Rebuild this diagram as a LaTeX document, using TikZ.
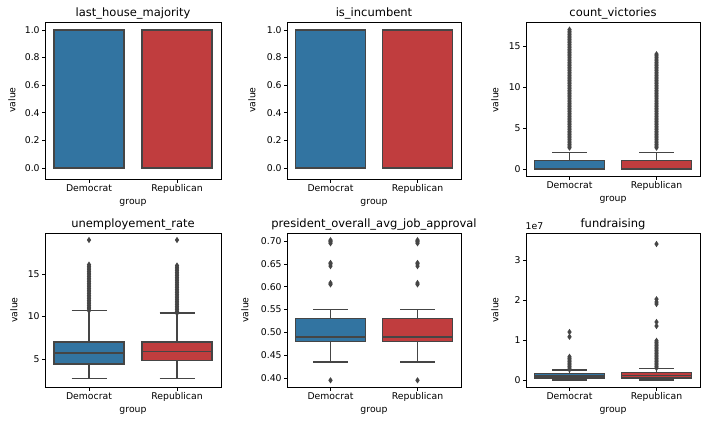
\documentclass[tikz,border=0pt]{standalone}
\usepackage{fontspec}
\setmainfont{DejaVu Sans}
\usetikzlibrary{shapes.geometric}
\definecolor{cblue}{HTML}{3274A1}
\definecolor{cred}{HTML}{C03D3E}
\definecolor{edge}{HTML}{454545}
\tikzset{
  frame/.style={draw=black, line width=0.8pt},
  boxst/.style={draw=edge, line width=1.3pt},
  wh/.style={draw=edge, line width=1.3pt},
  outl/.style={diamond, fill=edge, draw=none, inner sep=0pt, minimum width=4.5pt, minimum height=6.5pt},
  tick/.style={draw=black, line width=0.7pt},
  ticklab/.style={font=\fontsize{9.3}{10}\selectfont, inner sep=1.5pt},
  ttl/.style={font=\fontsize{11.5}{12}\selectfont},
  axlab/.style={font=\fontsize{9.3}{10}\selectfont}
}
% box: cx, hw, q1, med, q3, lo, hi, color
\newcommand{\bpl}[8]{%
  \filldraw[boxst, fill=#8] ({#1-#2},#3) rectangle ({#1+#2},#5);
  \draw[wh] ({#1-#2},#4) -- ({#1+#2},#4);
  \draw[wh] (#1,#6) -- (#1,#3);
  \draw[wh] (#1,#5) -- (#1,#7);
  \draw[wh] ({#1-#2/2},#6) -- ({#1+#2/2},#6);
  \draw[wh] ({#1-#2/2},#7) -- ({#1+#2/2},#7);
}
% panel frame and category labels: x0,x1,ytop,ybot,title,name
\newcommand{\pnl}[6]{%
  \draw[frame] (#1,#3) rectangle (#2,#4);
  \node[ttl, anchor=base] (#6t) at ({(#1+#2)/2},{#3-6}) {#5};
  \draw[tick] ({#1+(#2-#1)/4},#4) -- ++(0,3.5);
  \draw[tick] ({#1+3*(#2-#1)/4},#4) -- ++(0,3.5);
  \node[ticklab, anchor=north] (#6d) at ({#1+(#2-#1)/4},{#4+4}) {Democrat};
  \node[ticklab, anchor=north] (#6r) at ({#1+3*(#2-#1)/4},{#4+4}) {Republican};
  \node[axlab, anchor=north] (#6g) at ({(#1+#2)/2},{#4+17}) {group};
}
\begin{document}
\begin{tikzpicture}[x=1pt,y=-1pt]
\useasboundingbox[fill=white] (0,0) rectangle (712,424);
% ---------- Panel 1
\begin{scope}[shift={(0,168)}, yscale=-138]
  \bpl{89}{35}{0}{0}{1}{0}{1}{cblue}
  \bpl{177}{35}{0}{0}{1}{0}{1}{cred}
  \foreach \v/\l in {0/0.0,0.2/0.2,0.4/0.4,0.6/0.6,0.8/0.8,1/1.0}
    \draw[tick] (45,\v) -- ++(-3.5,0) node[ticklab, anchor=east] {\l};
\end{scope}
\pnl{45}{221}{22}{179}{last\_house\_majority}{a}
\node[axlab, rotate=90] (ay) at (12,100) {value};
% ---------- Panel 2
\begin{scope}[shift={(0,168)}, yscale=-138]
  \bpl{330.5}{35}{0}{0}{1}{0}{1}{cblue}
  \bpl{417.5}{35}{0}{0}{1}{0}{1}{cred}
  \foreach \v/\l in {0/0.0,0.2/0.2,0.4/0.4,0.6/0.6,0.8/0.8,1/1.0}
    \draw[tick] (287,\v) -- ++(-3.5,0) node[ticklab, anchor=east] {\l};
\end{scope}
\pnl{287}{461}{22}{179}{is\_incumbent}{b}
\node[axlab, rotate=90] (by) at (252,100) {value};
% ---------- Panel 3
\begin{scope}[shift={(0,169)}, yscale=-8.2]
  \foreach \v in {2.6,2.8,...,17.1} \node[outl] at (569.5,\v) {};
  \foreach \v in {2.6,2.8,...,14.1} \node[outl] at (656.5,\v) {};
  \bpl{569.5}{35}{0}{0}{1}{0}{2}{cblue}
  \bpl{656.5}{35}{0}{0}{1}{0}{2}{cred}
  \foreach \v in {0,5,10,15}
    \draw[tick] (526,\v) -- ++(-3.5,0) node[ticklab, anchor=east] {\v};
\end{scope}
\pnl{526}{700}{22}{176}{count\_victories}{c}
\node[axlab, rotate=90] (cy) at (495,100) {value};
% ---------- Panel 4
\begin{scope}[shift={(0,401.5)}, yscale=-8.5]
  \foreach \v in {10.7,10.9,...,16.2} \node[outl] at (89,\v) {};
  \node[outl] at (89,19) {};
  \foreach \v in {10.4,10.6,...,16.2} \node[outl] at (177,\v) {};
  \node[outl] at (177,19) {};
  \bpl{89}{35}{4.4}{5.7}{7.0}{2.7}{10.7}{cblue}
  \bpl{177}{35}{4.8}{5.9}{7.0}{2.7}{10.4}{cred}
  \foreach \v in {5,10,15}
    \draw[tick] (45,\v) -- ++(-3.5,0) node[ticklab, anchor=east] {\v};
\end{scope}
\pnl{45}{221}{233}{387}{unemployement\_rate}{d}
\node[axlab, rotate=90] (dy) at (14,310) {value};
% ---------- Panel 5
\begin{scope}[shift={(0,560.7)}, yscale=-456.7]
  \foreach \x in {330.5,417.5} {
    \foreach \v in {0.395,0.605,0.608,0.645,0.65,0.652,0.695,0.698,0.70,0.702}
      \node[outl] at (\x,\v) {};
  }
  \bpl{330.5}{35}{0.48}{0.49}{0.53}{0.435}{0.55}{cblue}
  \bpl{417.5}{35}{0.48}{0.49}{0.53}{0.435}{0.55}{cred}
  \foreach \v/\l in {0.40/0.40,0.45/0.45,0.50/0.50,0.55/0.55,0.60/0.60,0.65/0.65,0.70/0.70}
    \draw[tick] (287,\v) -- ++(-3.5,0) node[ticklab, anchor=east] {\l};
\end{scope}
\pnl{287}{461}{233}{387}{president\_overall\_avg\_job\_approval}{e}
\node[axlab, rotate=90] (ey) at (245,310) {value};
% ---------- Panel 6
\begin{scope}[shift={(0,380)}, yscale=-40]
  \foreach \v in {0.26,0.3,...,0.62} \node[outl] at (569.5,\v) {};
  \node[outl] at (569.5,1.08) {};
  \node[outl] at (569.5,1.2) {};
  \foreach \v in {0.3,0.34,...,1.0} \node[outl] at (656.5,\v) {};
  \foreach \v in {1.35,1.45,1.9,1.95,2.02,3.4} \node[outl] at (656.5,\v) {};
  \bpl{569.5}{35}{0.05}{0.1}{0.16}{0}{0.25}{cblue}
  \bpl{656.5}{35}{0.05}{0.11}{0.18}{0}{0.28}{cred}
  \foreach \v in {0,1,2,3}
    \draw[tick] (526,\v) -- ++(-3.5,0) node[ticklab, anchor=east] {\v};
\end{scope}
\pnl{526}{700}{233}{387}{fundraising}{f}
\node[ticklab, anchor=base west] (fe) at (524,229) {1e7};
\node[axlab, rotate=90] (fy) at (495,310) {value};
\end{tikzpicture}
\end{document}
